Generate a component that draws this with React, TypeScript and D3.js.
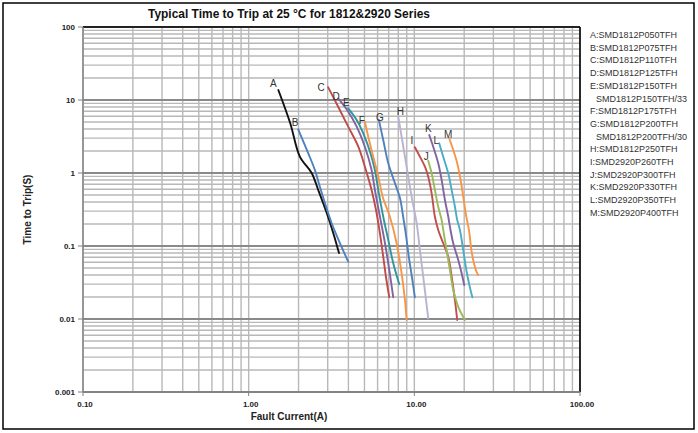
import React from 'react';
import * as d3 from 'd3';

// fault current (A) vs. time to trip (s)
const seriesA = [[1.51, 13.7], [1.78, 4.84], [2.04, 1.66], [2.4, 1.0], [2.63, 0.585], [2.96, 0.283], [3.24, 0.151], [3.51, 0.08]];
const seriesB = [[1.99, 3.97], [2.29, 1.86], [2.51, 1.1], [2.69, 0.648], [2.89, 0.385], [3.17, 0.205], [3.56, 0.109], [3.99, 0.061]];
const seriesC = [[3.02, 14.9], [3.47, 8.09], [3.99, 4.31], [4.59, 2.29], [5.03, 1.22], [5.52, 0.585], [5.87, 0.311], [6.2, 0.149], [6.49, 0.0713], [6.74, 0.0379], [7.06, 0.0198]];
const seriesD = [[3.47, 10.5], [3.99, 6.92], [4.49, 4.31], [5.03, 2.29], [5.52, 1.1], [5.78, 0.585], [6.2, 0.252], [6.65, 0.109], [7.06, 0.0469], [7.46, 0.0198]];
const seriesE = [[3.99, 7.69], [4.49, 5.32], [4.92, 3.5], [5.4, 1.96], [5.78, 1.1], [6.06, 0.585], [6.49, 0.252], [6.96, 0.121], [7.46, 0.058], [8.11, 0.03]];
const seriesF = [[5.03, 5.05], [5.27, 3.14], [5.65, 1.67], [6.06, 0.89], [6.44, 0.474], [7.12, 0.252], [7.82, 0.109], [8.38, 0.0423], [8.78, 0.0182], [8.98, 0.0097]];
const seriesG = [[6.11, 5.32], [6.49, 2.83], [6.96, 1.36], [7.64, 0.723], [8.19, 0.455], [8.53, 0.266], [8.9, 0.142], [9.28, 0.0686], [9.67, 0.0376], [10.08, 0.0198]];
const seriesH = [[8.0, 5.9], [8.38, 3.14], [8.78, 1.67], [9.19, 0.89], [9.63, 0.474], [10.33, 0.205], [10.81, 0.088], [11.32, 0.0379], [12.13, 0.0102]];
const seriesI = [[10.08, 2.25], [10.81, 1.67], [11.59, 1.22], [12.13, 0.89], [12.72, 0.527], [13.31, 0.252], [13.94, 0.166], [14.94, 0.109], [16.02, 0.0713], [16.8, 0.0379], [17.58, 0.0182], [18.15, 0.0097]];
const seriesJ = [[12.13, 1.47], [12.72, 0.99], [13.31, 0.585], [13.94, 0.345], [14.62, 0.227], [14.94, 0.166], [15.66, 0.088], [16.4, 0.0469], [17.17, 0.0249], [18.41, 0.0147], [20.2, 0.0097]];
const seriesK = [[12.3, 3.31], [13.0, 2.29], [13.94, 1.36], [14.62, 0.8], [15.3, 0.427], [16.02, 0.252], [16.4, 0.184], [17.17, 0.109], [18.41, 0.0643], [19.3, 0.0423], [20.0, 0.0292]];
const seriesL = [[14.13, 2.55], [14.94, 1.67], [16.02, 0.99], [16.8, 0.585], [17.58, 0.345], [18.15, 0.227], [18.85, 0.166], [19.73, 0.088], [20.6, 0.0469], [21.6, 0.0277], [22.4, 0.0198]];
const seriesM = [[16.24, 2.99], [17.17, 2.07], [18.15, 1.36], [19.03, 0.8], [19.73, 0.474], [20.6, 0.252], [21.36, 0.166], [22.1, 0.088], [22.9, 0.058], [23.7, 0.0445], [24.3, 0.0401]];

const seriesLetters = ['A', 'B', 'C', 'D', 'E', 'F', 'G', 'H', 'I', 'J', 'K', 'L', 'M'];
const allSeries = [seriesA, seriesB, seriesC, seriesD, seriesE, seriesF, seriesG, seriesH, seriesI, seriesJ, seriesK, seriesL, seriesM];

const legendLines = [
  'A:SMD1812P050TFH',
  'B:SMD1812P075TFH',
  'C:SMD1812P110TFH',
  'D:SMD1812P125TFH',
  'E:SMD1812P150TFH',
  ' SMD1812P150TFH/33',
  'F:SMD1812P175TFH',
  'G:SMD1812P200TFH',
  ' SMD1812P200TFH/30',
  'H:SMD1812P250TFH',
  'I:SMD2920P260TFH',
  'J:SMD2920P300TFH',
  'K:SMD2920P330TFH',
  'L:SMD2920P350TFH',
  'M:SMD2920P400TFH',
];

const xTickValues = [0.1, 1, 10, 100];
const xTickLabels = ['0.10', '1.00', '10.00', '100.00'];
const yTickValues = [0.001, 0.01, 0.1, 1, 10, 100];
const yTickLabels = ['0.001', '0.01', '0.1', '1', '10', '100'];

const COLORS = ['#111111', '#4f81bd', '#be4b48', '#8064a2', '#31959c', '#f79646', '#4f81bd', '#b9b3d1', '#c0504d', '#9bbb59', '#8064a2', '#4bacc6', '#f79646'];
// letter label offset from the first point of each curve
const LABEL_OFFSET = [[-5, -7], [-3, -7], [-7, 0], [-2, -2], [-2, -6], [-3, -2], [1, -3], [2, -6], [-3, -7], [-2, -5], [-1, -7], [-3, -3], [-1, -4]];

const W = 698;
const H = 433;
const plot = { left: 83, right: 580, top: 27, bottom: 392 };
const FONT = 'Liberation Sans, Arial, sans-serif';

const isDecade = (v: number) => Math.abs(Math.log10(v) - Math.round(Math.log10(v))) < 1e-6;

export default function App() {
  const x = d3.scaleLog().domain([0.1, 100]).range([plot.left, plot.right]);
  const y = d3.scaleLog().domain([0.001, 100]).range([plot.bottom, plot.top]);

  const line = d3.line<number[]>()
    .x(d => x(d[0]))
    .y(d => y(d[1]))
    .curve(d3.curveCatmullRom.alpha(0.5));

  const xGrid = x.ticks();
  const yGrid = y.ticks();

  return (
    <div>
      <style>{`body{margin:0}`}</style>
      <svg width={W} height={H} style={{ display: 'block', background: '#fff' }}>
        <rect x={3} y={3} width={691} height={426} fill="#fff" stroke="#000" strokeWidth={1.5} />

        <text x={289} y={18} textAnchor="middle" fontFamily={FONT} fontWeight="bold" fontSize={13} fill="#111"
          textLength={282} lengthAdjust="spacingAndGlyphs">
          Typical Time to Trip at 25 °C for 1812&amp;2920 Series
        </text>

        {/* grid */}
        {xGrid.map((v, i) => (
          <line key={'gx' + i} x1={x(v)} x2={x(v)} y1={plot.top} y2={plot.bottom}
            stroke="#b8b8b8" strokeWidth={1.4} />
        ))}
        {yGrid.map((v, i) => (
          <line key={'gy' + i} x1={plot.left} x2={plot.right} y1={y(v)} y2={y(v)}
            stroke={isDecade(v) ? '#8a8a8a' : '#b8b8b8'} strokeWidth={isDecade(v) ? 1.8 : 1.4} />
        ))}

        {/* frame */}
        <line x1={plot.left} x2={plot.right} y1={plot.top} y2={plot.top} stroke="#000" strokeWidth={1.6} />
        <line x1={plot.right} x2={plot.right} y1={plot.top} y2={plot.bottom} stroke="#000" strokeWidth={1.6} />
        <line x1={plot.left} x2={plot.left} y1={plot.top} y2={plot.bottom} stroke="#808080" strokeWidth={1.4} />
        <line x1={plot.left} x2={plot.right} y1={plot.bottom} y2={plot.bottom} stroke="#808080" strokeWidth={1.4} />

        {/* y axis */}
        {yTickValues.map((v, i) => (
          <g key={'yt' + i}>
            <line x1={plot.left - 5} x2={plot.left} y1={y(v)} y2={y(v)} stroke="#808080" strokeWidth={1} />
            <text x={plot.left - 8} y={y(v) + 3} textAnchor="end" fontFamily={FONT} fontWeight="bold" fontSize={8} fill="#222">
              {yTickLabels[i]}
            </text>
          </g>
        ))}
        {/* x axis */}
        {xTickValues.map((v, i) => (
          <g key={'xt' + i}>
            <line x1={x(v)} x2={x(v)} y1={plot.bottom} y2={plot.bottom + 4} stroke="#808080" strokeWidth={1} />
            <text x={x(v) + 2} y={plot.bottom + 15} textAnchor="middle" fontFamily={FONT} fontWeight="bold" fontSize={8} fill="#222">
              {xTickLabels[i]}
            </text>
          </g>
        ))}

        <text transform={`translate(31,${(plot.top + plot.bottom) / 2}) rotate(-90)`} textAnchor="middle"
          fontFamily={FONT} fontWeight="bold" fontSize={10} fill="#222">
          Time to Trip(S)
        </text>
        <text x={289} y={420} textAnchor="middle" fontFamily={FONT} fontWeight="bold" fontSize={10} fill="#222">
          Fault Current(A)
        </text>

        {/* curves */}
        {allSeries.map((s, i) => (
          <path key={'c' + i} d={line(s) || ''} fill="none" stroke={COLORS[i]} strokeWidth={1.9} strokeLinecap="round" />
        ))}
        {allSeries.map((s, i) => (
          <text key={'l' + i} x={x(s[0][0]) + LABEL_OFFSET[i][0]} y={y(s[0][1]) + LABEL_OFFSET[i][1] + 4}
            textAnchor="middle" fontFamily={FONT} fontSize={10} fill="#333">
            {seriesLetters[i]}
          </text>
        ))}

        {/* legend */}
        {legendLines.map((t, i) => (
          <text key={'lg' + i} x={t.startsWith(' ') ? 596 : 590} y={38 + i * 12.7}
            fontFamily={FONT} fontSize={9} fill="#333">
            {t.trim()}
          </text>
        ))}
      </svg>
    </div>
  );
}
